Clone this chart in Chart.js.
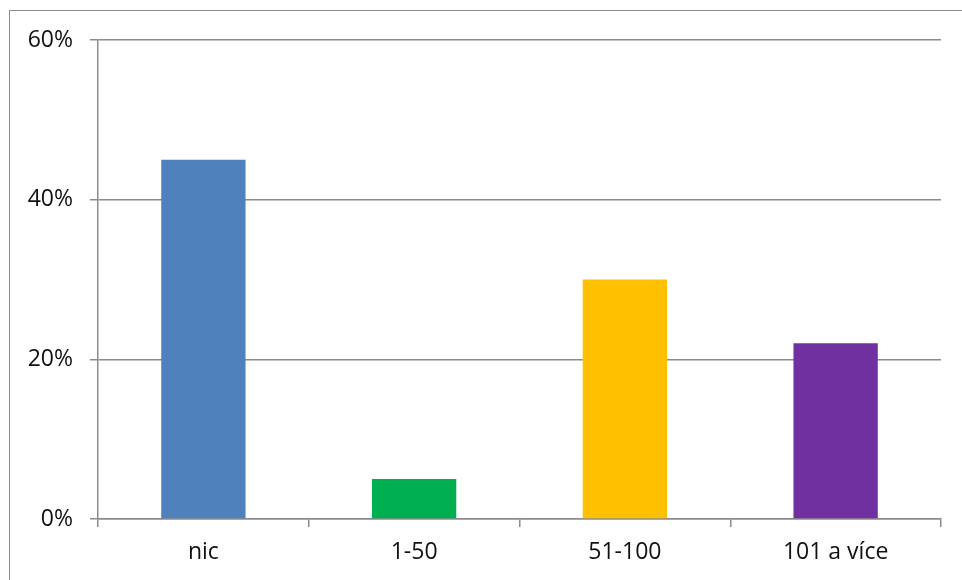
<!DOCTYPE html>
<html>
<head>
<meta charset="utf-8">
<script src="https://cdn.jsdelivr.net/npm/chart.js@4"></script>
<style>
  body { margin: 0; background: #fff; }
  #wrap { position: relative; width: 962px; height: 580px; }
  #frame { position: absolute; left: 9px; top: 10px; right: -2px; bottom: -2px;
           border-top: 1.5px solid #8c8c8c; border-left: 1.5px solid #8c8c8c; }
  canvas { position: absolute; left: 0; top: 0; }
</style>
</head>
<body>
<div id="wrap">
  <div id="frame"></div>
  <canvas id="chart" width="962" height="580"></canvas>
</div>
<script>
const categories = ["nic", "1-50", "51-100", "101 a více"];
const shares = [0.45, 0.05, 0.30, 0.22];
const barColors = ["#4F81BD", "#00B050", "#FFC000", "#7030A0"];
const yTicks = [0, 0.2, 0.4, 0.6];

const labelFont = { family: "'Open Sans', 'Noto Sans', sans-serif", size: 23 };

const ctx = document.getElementById("chart").getContext("2d");
new Chart(ctx, {
  type: "bar",
  data: {
    labels: categories,
    datasets: [
      {
        data: shares,
        backgroundColor: barColors,
        barPercentage: 0.4,
        categoryPercentage: 1,
      },
    ],
  },
  options: {
    responsive: false,
    animation: false,
    layout: { padding: { top: 40, right: 21, left: 0, bottom: 0 } },
    plugins: { legend: { display: false }, tooltip: { enabled: false } },
    scales: {
      x: {
        afterFit: (scale) => { scale.height = 61; },
        grid: {
          offset: true,
          drawOnChartArea: false,
          drawTicks: true,
          tickLength: 8,
          color: "#8c8c8c",
          lineWidth: 1.5,
        },
        border: { color: "#8c8c8c", width: 1.5 },
        ticks: {
          color: "#111",
          padding: 12,
          font: labelFont,
        },
      },
      y: {
        min: 0,
        max: 0.6,
        afterFit: (scale) => { scale.width = 98; },
        afterBuildTicks: (scale) => {
          scale.ticks = yTicks.map((v) => ({ value: v }));
        },
        grid: {
          color: "#8c8c8c",
          lineWidth: 1.5,
          tickLength: 8,
        },
        border: { color: "#8c8c8c", width: 1.5 },
        ticks: {
          color: "#111",
          padding: 17,
          font: labelFont,
          callback: (v) => Math.round(v * 100) + "%",
        },
      },
    },
  },
});
</script>
</body>
</html>
